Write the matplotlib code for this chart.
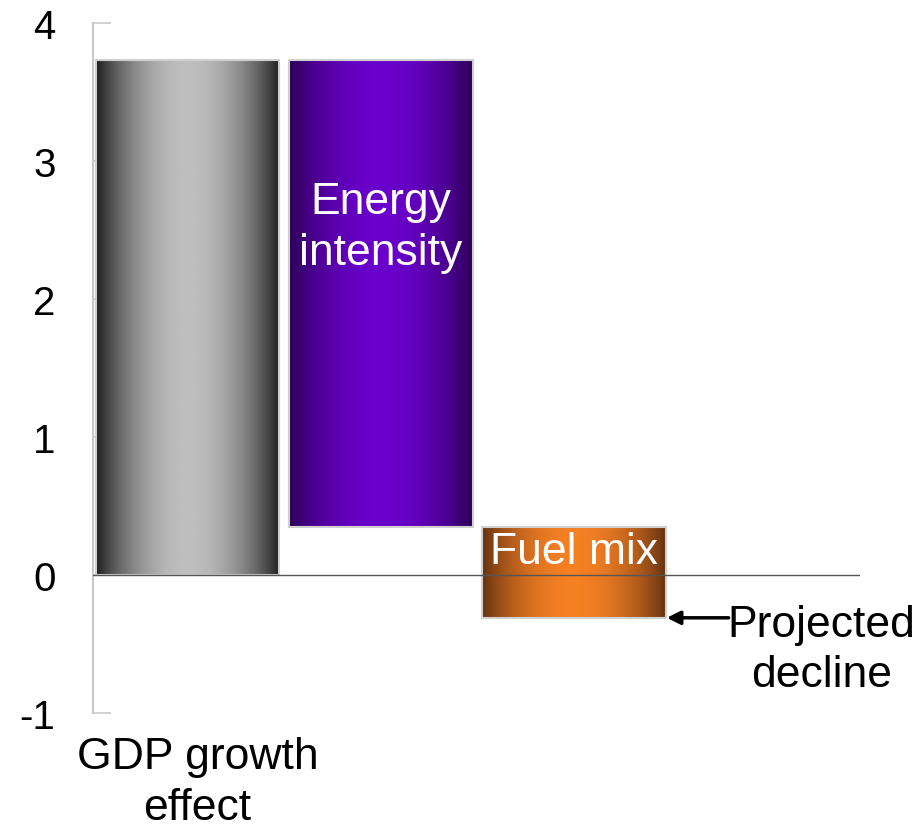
import numpy as np
import matplotlib.pyplot as plt
from matplotlib.colors import LinearSegmentedColormap

# Waterfall data: start/end of each step
categories = ['GDP growth\neffect', 'Energy\nintensity', 'Fuel mix']
bar_bottoms = [0.0, 0.35, -0.31]
bar_tops = [3.73, 3.73, 0.35]
edge_colors = ['#1a1a1a', '#2a0052', '#613010']
center_colors = ['#bebebe', '#6a00cc', '#f58024']
y_ticks = [-1, 0, 1, 2, 3, 4]

plt.rcParams['font.family'] = ['Liberation Sans', 'DejaVu Sans']

fig = plt.figure(figsize=(9.23, 8.29), dpi=100)
ax = fig.add_axes([0.1008, 0.1387, 0.8309, 0.8323])

x = np.arange(len(categories))
heights = [t - b for t, b in zip(bar_tops, bar_bottoms)]
bars = ax.bar(x, heights, bottom=bar_bottoms, width=0.95,
              facecolor='none', edgecolor='#d0d0d0', linewidth=1.5, zorder=3)

# horizontal gradient fill for each bar (dark edges, bright centre)
t = np.linspace(0, 1, 256)
profile = (np.sin(np.pi * t) ** 0.8).reshape(1, -1)
for bar, c_edge, c_mid in zip(bars, edge_colors, center_colors):
    cmap = LinearSegmentedColormap.from_list('g', [c_edge, c_mid])
    x0, y0 = bar.get_x(), bar.get_y()
    im = ax.imshow(profile, cmap=cmap, aspect='auto', zorder=2,
                   extent=(x0, x0 + bar.get_width(), y0, y0 + bar.get_height()))
    im.set_clip_path(bar)

ax.axhline(0, color='#555555', linewidth=1, zorder=4)

ax.set_xlim(-0.49, 3.48)
ax.set_ylim(-1, 4)
ax.set_yticks(y_ticks)
ax.set_yticklabels([str(v) for v in y_ticks], fontsize=29)
ax.tick_params(axis='y', direction='in', length=13, width=1.2, color='#c8c8c8', pad=27)
ax.set_xticks([])
for s in ['top', 'right', 'bottom']:
    ax.spines[s].set_visible(False)
ax.spines['left'].set_color('#c8c8c8')
ax.spines['left'].set_linewidth(1.5)

# category labels
ax.text(x[0] + 0.05, -1.17, categories[0], ha='center', va='top', fontsize=32,
        linespacing=1.3)
ax.text(x[1], 2.52, categories[1], ha='center', va='center', fontsize=32,
        color='white', linespacing=1.3, zorder=5)
ax.text(x[2], 0.17, categories[2], ha='center', va='center', fontsize=32,
        color='white', zorder=5)

# annotation for the decline
ax.annotate('', xy=(x[2] + 0.48, bar_bottoms[2]),
            xytext=(x[2] + 0.8, bar_bottoms[2]),
            arrowprops=dict(arrowstyle='-|>', color='black', lw=2.5,
                            mutation_scale=20, shrinkA=0, shrinkB=0))
ax.text(x[2] + 1.28, bar_bottoms[2] - 0.23, 'Projected\ndecline', fontsize=32,
        ha='center', va='center', linespacing=1.3)

fig.savefig('out.png', dpi=100)
